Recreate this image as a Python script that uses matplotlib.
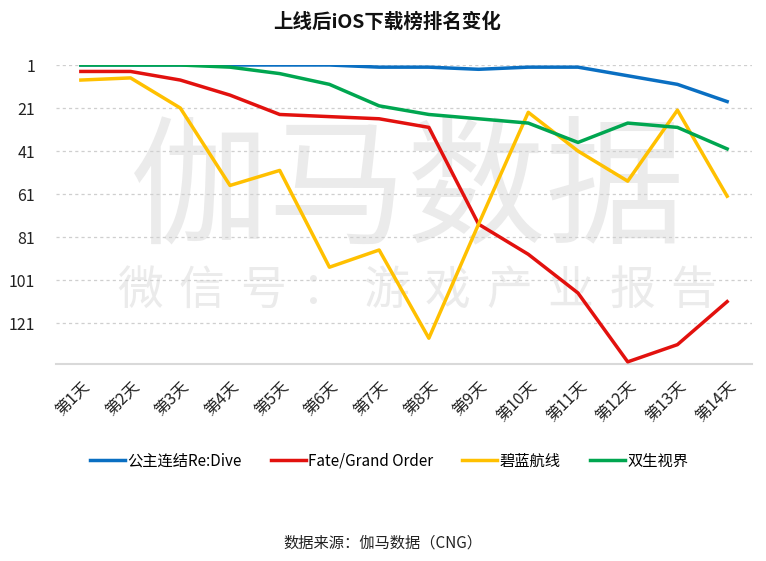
import matplotlib.pyplot as plt
import numpy as np

plt.rcParams['font.family'] = ['Noto Sans CJK SC', 'DejaVu Sans']

days = ['第1天', '第2天', '第3天', '第4天', '第5天', '第6天', '第7天',
        '第8天', '第9天', '第10天', '第11天', '第12天', '第13天', '第14天']
redive = [1, 1, 1, 1, 1, 1, 2, 2, 3, 2, 2, 6, 10, 18]
fgo = [4, 4, 8, 15, 24, 25, 26, 30, 75, 89, 107, 139, 131, 111]
azur = [8, 7, 21, 57, 50, 95, 87, 128, 75, 23, 41, 55, 22, 62]
twins = [1, 1, 1, 2, 5, 10, 20, 24, 26, 28, 37, 28, 30, 40]
names = ['公主连结Re:Dive', 'Fate/Grand Order', '碧蓝航线', '双生视界']
colors = ['#0A6FC2', '#E2110E', '#FFC000', '#00A650']
yticks = [1, 21, 41, 61, 81, 101, 121]

fig = plt.figure(figsize=(7.66, 5.61), dpi=100)
ax = fig.add_axes([56 / 766, 1 - 364 / 561, 696 / 766, 299 / 561])

# watermark, behind the lines
wm = '#ebebeb'
ax.text(408 / 766, 1 - 194 / 561, '伽马数据', fontsize=100, color=wm,
        ha='center', va='center', zorder=0, fontweight='light',
        transform=fig.transFigure)
for i, ch in enumerate('微信号：游戏产业报告'):
    ax.text((140 + i * 61.5) / 766, 1 - 291 / 561, ch, fontsize=33, color=wm,
            ha='center', va='center', zorder=0, fontweight='light',
            transform=fig.transFigure)

x = np.arange(len(days))
for ys, name, c in zip([redive, fgo, azur, twins], names, colors):
    ax.plot(x, ys, color=c, lw=2.5, label=name, zorder=3)

ax.set_xlim(-0.5, len(days) - 0.5)
ax.set_ylim(140, 1)
ax.set_yticks(yticks)
ax.set_yticklabels([str(t) for t in yticks], fontsize=11.5, color='#222222')
ax.tick_params(axis='y', length=0, pad=15)
for t in yticks:
    ax.axhline(t, color='#cfcfcf', lw=0.9, ls=(0, (2.5, 2.5)), zorder=1)

ax.set_xticks(x)
ax.set_xticklabels(days, rotation=45, ha='right', va='top',
                   rotation_mode='anchor', fontsize=11.5, color='#222222')
ax.tick_params(axis='x', length=0, pad=10)

for s in ['top', 'right', 'left']:
    ax.spines[s].set_visible(False)
ax.spines['bottom'].set_color('#d9d9d9')
ax.spines['bottom'].set_linewidth(1.5)

fig.text(387 / 766, 1 - 22 / 561, '上线后iOS下载榜排名变化', ha='center', va='center',
         fontsize=14, fontweight='bold', color='#111111')

fig.legend(loc='center', bbox_to_anchor=(389 / 766, 1 - 461 / 561), ncol=4,
           frameon=False, fontsize=11, handlelength=2.3, handletextpad=0.15,
           columnspacing=1.9)

fig.text(383 / 766, 1 - 543 / 561, '数据来源：伽马数据（CNG）', ha='center',
         va='center', fontsize=11, color='#222222')

fig.savefig('out.png', dpi=100)
